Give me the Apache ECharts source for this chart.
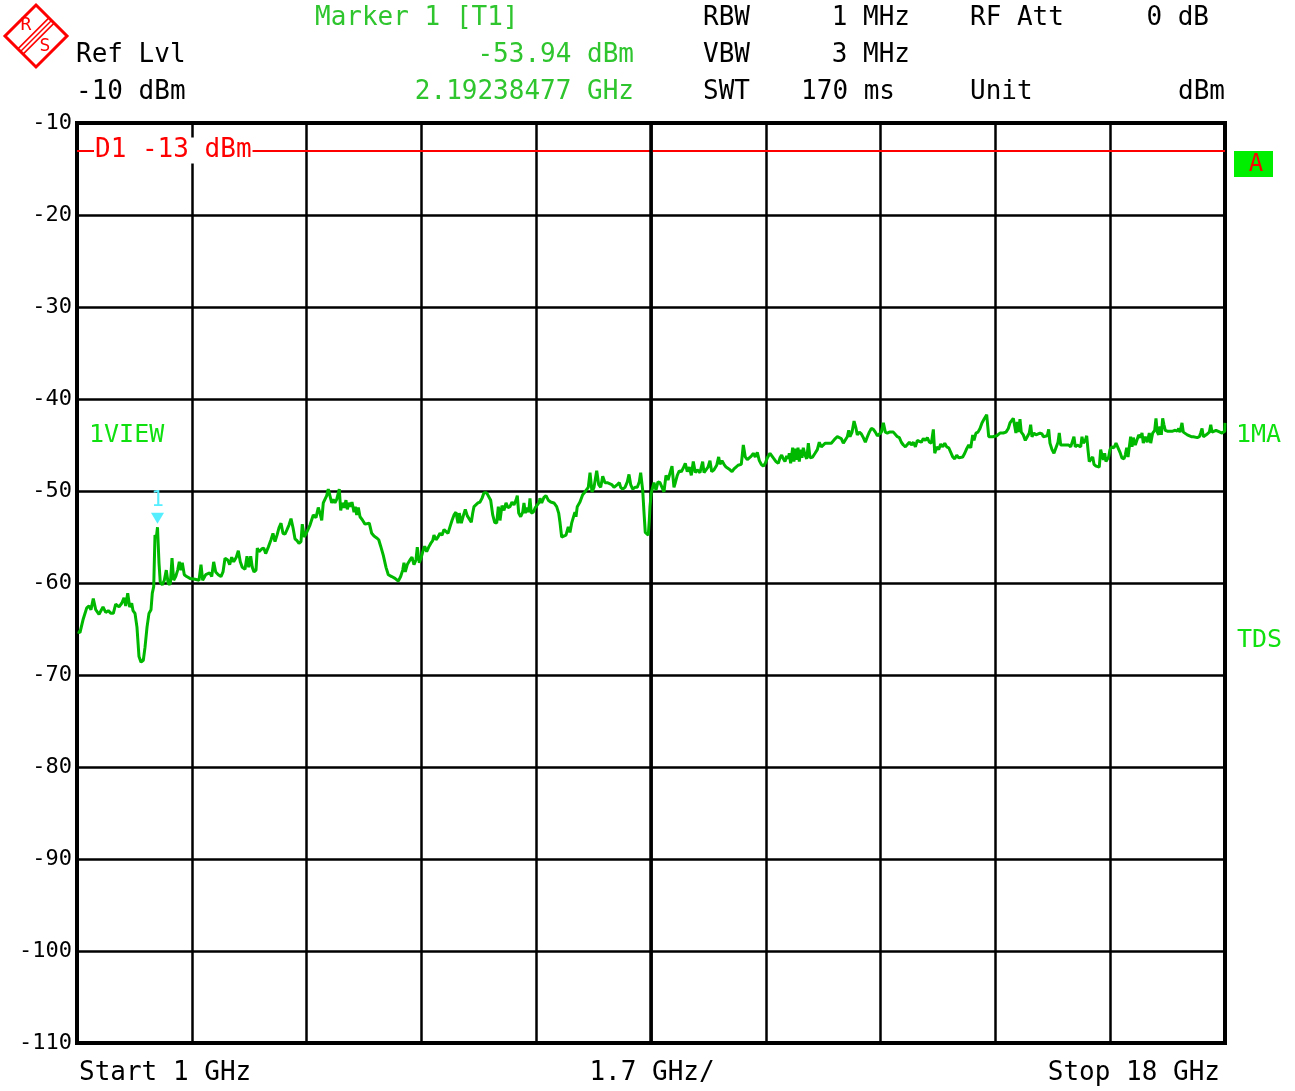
<!DOCTYPE html>
<html>
<head>
<meta charset="utf-8">
<script src="https://cdn.jsdelivr.net/npm/echarts@6/dist/echarts.min.js"></script>
<style>
  html, body { margin: 0; padding: 0; background: #fff; }
  #chart { width: 1295px; height: 1091px; }
</style>
</head>
<body>
<div id="chart"></div>
<script>
// trace 1 (max hold view)
const freqGHz = [
  1.010, 1.044, 1.089, 1.144, 1.178, 1.207, 1.241, 1.277, 1.326, 1.355, 1.385, 1.425, 1.463, 1.503, 1.538,
  1.573, 1.622, 1.662, 1.696, 1.721, 1.751, 1.780, 1.810, 1.829, 1.859, 1.888, 1.918, 1.948, 1.982, 2.007,
  2.037, 2.066, 2.096, 2.115, 2.136, 2.155, 2.174, 2.192, 2.214, 2.233, 2.263, 2.293, 2.322, 2.352, 2.382,
  2.407, 2.432, 2.462, 2.491, 2.515, 2.540, 2.559, 2.589, 2.624, 2.673, 2.747, 2.807, 2.836, 2.861, 2.906,
  2.935, 2.965, 2.995, 3.024, 3.054, 3.092, 3.132, 3.162, 3.192, 3.232, 3.261, 3.291, 3.320, 3.359, 3.389,
  3.418, 3.448, 3.488, 3.517, 3.543, 3.572, 3.596, 3.621, 3.651, 3.670, 3.695, 3.735, 3.765, 3.794, 3.833,
  3.873, 3.902, 3.932, 3.962, 3.991, 4.021, 4.050, 4.080, 4.110, 4.139, 4.169, 4.199, 4.228, 4.258, 4.287,
  4.317, 4.336, 4.366, 4.395, 4.410, 4.450, 4.499, 4.539, 4.573, 4.598, 4.624, 4.647, 4.672, 4.698, 4.721,
  4.746, 4.772, 4.795, 4.820, 4.846, 4.884, 4.905, 4.929, 4.958, 4.983, 5.003, 5.028, 5.053, 5.072, 5.102,
  5.121, 5.142, 5.166, 5.191, 5.231, 5.265, 5.290, 5.328, 5.364, 5.398, 5.438, 5.468, 5.497, 5.536, 5.576,
  5.610, 5.660, 5.709, 5.758, 5.793, 5.823, 5.842, 5.861, 5.891, 5.931, 5.961, 5.990, 6.020, 6.039, 6.069,
  6.098, 6.128, 6.149, 6.178, 6.208, 6.238, 6.267, 6.286, 6.316, 6.346, 6.375, 6.405, 6.435, 6.464, 6.494,
  6.523, 6.553, 6.583, 6.612, 6.642, 6.661, 6.691, 6.720, 6.750, 6.780, 6.809, 6.839, 6.860, 6.879, 6.908,
  6.938, 6.968, 6.997, 7.027, 7.067, 7.096, 7.126, 7.156, 7.185, 7.215, 7.239, 7.264, 7.293, 7.323, 7.353,
  7.382, 7.412, 7.441, 7.471, 7.501, 7.520, 7.541, 7.570, 7.600, 7.619, 7.639, 7.659, 7.689, 7.708, 7.727,
  7.757, 7.787, 7.816, 7.846, 7.856, 7.881, 7.915, 7.945, 7.979, 8.015, 8.063, 8.103, 8.133, 8.152, 8.177,
  8.201, 8.241, 8.275, 8.300, 8.325, 8.349, 8.374, 8.389, 8.408, 8.448, 8.488, 8.522, 8.547, 8.571, 8.597,
  8.626, 8.656, 8.696, 8.725, 8.755, 8.785, 8.819, 8.853, 8.882, 8.918, 8.952, 8.981, 9.001, 9.031, 9.051,
  9.081, 9.115, 9.149, 9.174, 9.199, 9.229, 9.263, 9.297, 9.327, 9.347, 9.377, 9.396, 9.415, 9.436, 9.460,
  9.475, 9.485, 9.504, 9.525, 9.544, 9.574, 9.603, 9.633, 9.663, 9.692, 9.722, 9.752, 9.781, 9.811, 9.840,
  9.860, 9.889, 9.919, 9.949, 9.978, 10.008, 10.037, 10.067, 10.097, 10.126, 10.156, 10.185, 10.225, 10.265, 10.285,
  10.314, 10.344, 10.373, 10.399, 10.433, 10.473, 10.502, 10.522, 10.551, 10.581, 10.611, 10.640, 10.670, 10.700, 10.729,
  10.759, 10.789, 10.818, 10.837, 10.867, 10.896, 10.926, 10.955, 10.985, 11.015, 11.044, 11.074, 11.104, 11.133, 11.163,
  11.192, 11.222, 11.262, 11.281, 11.311, 11.351, 11.385, 11.410, 11.435, 11.459, 11.484, 11.509, 11.533, 11.548, 11.568,
  11.598, 11.617, 11.637, 11.657, 11.677, 11.696, 11.717, 11.736, 11.755, 11.781, 11.806, 11.830, 11.855, 11.894, 11.929,
  11.963, 11.992, 12.022, 12.051, 12.081, 12.111, 12.140, 12.170, 12.199, 12.229, 12.259, 12.288, 12.318, 12.348, 12.377,
  12.407, 12.428, 12.447, 12.477, 12.507, 12.536, 12.555, 12.585, 12.615, 12.644, 12.674, 12.704, 12.733, 12.763, 12.793,
  12.822, 12.852, 12.881, 12.911, 12.941, 12.970, 13.000, 13.030, 13.059, 13.089, 13.118, 13.148, 13.178, 13.207, 13.237,
  13.267, 13.296, 13.326, 13.355, 13.385, 13.415, 13.444, 13.474, 13.504, 13.533, 13.563, 13.592, 13.622, 13.652, 13.681,
  13.702, 13.731, 13.761, 13.790, 13.820, 13.850, 13.879, 13.909, 13.938, 13.968, 13.998, 14.027, 14.057, 14.086, 14.116,
  14.146, 14.175, 14.205, 14.235, 14.264, 14.283, 14.312, 14.342, 14.372, 14.401, 14.431, 14.450, 14.471, 14.501, 14.530,
  14.560, 14.589, 14.619, 14.668, 14.717, 14.757, 14.791, 14.816, 14.841, 14.865, 14.890, 14.904, 14.924, 14.945, 14.964,
  14.983, 15.013, 15.043, 15.072, 15.102, 15.122, 15.142, 15.171, 15.201, 15.230, 15.260, 15.290, 15.309, 15.338, 15.368,
  15.389, 15.408, 15.438, 15.467, 15.497, 15.527, 15.546, 15.567, 15.596, 15.626, 15.655, 15.685, 15.715, 15.744, 15.763,
  15.783, 15.813, 15.842, 15.863, 15.882, 15.902, 15.931, 15.952, 15.971, 15.990, 16.011, 16.041, 16.060, 16.090, 16.109,
  16.138, 16.159, 16.178, 16.198, 16.218, 16.237, 16.257, 16.277, 16.297, 16.326, 16.356, 16.386, 16.415, 16.445, 16.474,
  16.504, 16.523, 16.544, 16.564, 16.583, 16.603, 16.623, 16.642, 16.672, 16.692, 16.722, 16.751, 16.771, 16.790, 16.820,
  16.849, 16.879, 16.900, 16.929, 16.959, 16.978, 16.997, 17.018, 17.037, 17.057, 17.077, 17.096, 17.116, 17.146, 17.185,
  17.225, 17.264, 17.294, 17.314, 17.334, 17.363, 17.383, 17.412, 17.442, 17.471, 17.501, 17.531, 17.560, 17.590, 17.620,
  17.640, 17.660, 17.679, 17.708, 17.738, 17.768, 17.789, 17.808, 17.837, 17.867, 17.896, 17.926, 17.956, 17.975, 17.996,
  18.000
]

const levelDbm = [
  -65.3, -65.4, -64.0, -62.7, -62.5, -62.9, -61.7, -62.9, -63.4, -63.6, -62.6, -63.2, -63.0, -63.3, -63.3,
  -62.3, -62.6, -62.2, -61.6, -62.5, -61.1, -62.6, -62.2, -63.0, -63.3, -64.8, -68.0, -68.6, -68.4, -67.0,
  -64.8, -63.3, -62.9, -61.1, -60.4, -54.8, -55.1, -53.94, -57.8, -59.9, -60.2, -59.7, -58.6, -60.1, -60.1,
  -57.3, -59.7, -59.3, -58.6, -57.7, -58.6, -57.8, -59.1, -59.3, -59.5, -59.6, -59.7, -58.0, -59.7, -59.1,
  -59.3, -58.9, -59.3, -57.7, -58.8, -59.1, -59.3, -58.8, -57.3, -57.5, -58.0, -57.2, -57.7, -57.2, -56.5,
  -57.7, -58.3, -58.5, -57.1, -58.3, -57.1, -58.3, -58.8, -58.6, -56.2, -56.6, -56.3, -56.2, -56.8, -56.1,
  -55.3, -54.6, -55.5, -54.8, -54.0, -53.5, -54.6, -54.7, -54.2, -53.7, -53.0, -54.0, -55.2, -55.4, -55.7,
  -55.5, -53.6, -55.0, -54.6, -54.8, -53.7, -52.6, -52.9, -51.8, -52.4, -53.2, -51.3, -51.2, -50.5, -49.8,
  -49.7, -51.3, -50.9, -51.3, -50.9, -49.8, -52.1, -51.3, -51.8, -51.0, -52.0, -51.3, -51.7, -51.2, -52.3,
  -51.7, -52.6, -51.8, -52.8, -53.2, -53.6, -53.5, -53.5, -54.6, -54.9, -55.1, -55.3, -56.0, -57.0, -58.3,
  -59.1, -59.3, -59.5, -59.8, -59.3, -58.6, -57.8, -58.8, -58.0, -57.5, -57.2, -58.0, -57.5, -56.1, -57.8,
  -57.2, -56.4, -56.0, -56.6, -56.1, -55.7, -55.4, -54.8, -55.3, -55.0, -54.6, -54.8, -54.2, -54.0, -54.6,
  -53.9, -53.2, -52.6, -52.3, -53.5, -52.4, -53.5, -52.7, -52.0, -52.7, -52.8, -53.4, -52.4, -51.7, -51.5,
  -51.3, -51.2, -50.8, -50.2, -50.2, -50.2, -51.0, -52.6, -53.4, -53.5, -51.7, -53.2, -51.6, -52.1, -51.3,
  -51.8, -51.7, -51.2, -51.5, -51.0, -50.5, -52.4, -52.8, -52.3, -51.3, -52.4, -51.8, -52.3, -50.8, -52.4,
  -52.3, -51.8, -51.7, -51.2, -50.8, -51.3, -50.7, -50.5, -51.0, -51.2, -51.3, -51.7, -52.4, -53.4, -55.0,
  -55.2, -54.8, -53.9, -54.5, -53.5, -52.9, -52.3, -52.8, -51.7, -51.2, -50.4, -50.1, -50.2, -49.6, -48.0,
  -50.1, -49.6, -47.8, -49.3, -49.6, -48.4, -49.1, -49.1, -49.3, -49.3, -49.6, -49.7, -49.3, -49.1, -49.6,
  -49.8, -49.6, -49.0, -48.2, -49.3, -49.8, -49.6, -49.6, -49.0, -48.0, -49.9, -52.3, -54.5, -54.7, -54.8,
  -53.2, -51.7, -50.2, -49.6, -49.1, -49.9, -49.0, -49.1, -49.6, -50.1, -48.3, -48.8, -48.6, -47.3, -49.6,
  -49.1, -48.3, -47.8, -47.9, -47.5, -47.0, -47.9, -47.4, -48.3, -46.8, -48.0, -47.7, -48.0, -46.8, -48.0,
  -47.9, -47.4, -46.7, -47.9, -47.7, -47.2, -46.3, -47.1, -46.7, -47.1, -47.4, -47.5, -47.7, -47.9, -47.6,
  -47.4, -47.2, -47.0, -47.1, -45.0, -46.3, -46.6, -46.4, -46.2, -45.9, -46.3, -45.8, -46.7, -47.1, -47.3,
  -47.0, -46.4, -45.9, -45.8, -46.4, -46.8, -47.0, -46.4, -46.1, -46.5, -46.8, -46.2, -46.5, -45.9, -47.0,
  -45.3, -46.8, -45.4, -46.6, -45.3, -46.8, -45.5, -46.4, -45.3, -46.1, -46.5, -44.8, -46.4, -46.3, -45.9,
  -45.5, -44.7, -45.2, -45.3, -44.8, -44.8, -44.7, -44.8, -44.6, -44.3, -44.1, -44.0, -44.3, -44.8, -45.0,
  -44.1, -43.4, -44.1, -43.6, -42.4, -43.2, -43.9, -43.6, -43.8, -44.2, -44.7, -44.1, -43.6, -43.2, -43.3,
  -43.6, -44.0, -43.9, -43.6, -42.6, -43.6, -43.7, -43.6, -43.8, -43.6, -43.8, -44.1, -44.2, -44.7, -45.0,
  -45.2, -45.3, -44.7, -45.0, -44.7, -45.2, -44.5, -44.6, -44.7, -44.3, -44.5, -44.2, -44.7, -44.8, -43.3,
  -45.9, -45.2, -45.5, -44.9, -45.2, -44.8, -45.2, -45.3, -45.5, -46.3, -46.5, -46.1, -46.4, -46.3, -46.3,
  -45.9, -45.4, -45.0, -45.3, -43.9, -44.5, -43.7, -43.6, -43.2, -42.6, -42.2, -42.0, -41.7, -44.1, -44.2,
  -44.1, -44.1, -44.0, -43.7, -43.7, -43.6, -43.2, -42.6, -42.5, -42.1, -42.2, -43.7, -42.5, -43.6, -42.2,
  -43.6, -43.9, -44.5, -44.1, -43.7, -42.8, -44.1, -43.7, -43.9, -43.7, -43.7, -43.8, -44.1, -44.2, -44.0,
  -43.3, -44.8, -45.5, -45.9, -45.3, -44.7, -43.7, -45.0, -44.8, -45.0, -44.8, -45.0, -45.2, -45.1, -44.1,
  -45.2, -45.0, -44.8, -45.2, -44.1, -44.8, -44.5, -44.0, -45.5, -46.8, -47.0, -46.3, -47.1, -47.3, -47.5,
  -47.4, -45.5, -46.1, -46.6, -45.9, -46.8, -46.7, -46.3, -45.5, -45.2, -45.3, -44.8, -45.0, -45.8, -46.4,
  -46.5, -46.1, -45.3, -46.3, -45.2, -44.1, -45.2, -44.2, -45.0, -44.8, -43.9, -44.2, -43.7, -44.8, -44.1,
  -44.7, -43.7, -44.8, -43.7, -43.4, -42.1, -43.6, -43.9, -43.0, -43.9, -42.1, -42.8, -43.4, -43.5, -43.5,
  -43.5, -43.4, -43.5, -43.2, -43.6, -42.6, -43.6, -43.7, -43.9, -44.1, -44.1, -44.1, -44.2, -44.2, -44.1,
  -43.7, -43.2, -44.1, -44.1, -43.8, -43.6, -42.8, -43.6, -43.7, -43.4, -43.3, -43.6, -43.7, -43.8, -43.5,
  -42.6
]

// display line D1 and marker 1
const displayLine = -13
const marker1 = [2.192, -53.94]
const startGHz = 1
const stopGHz = 18
const centerGHz = 9.5

const trace = freqGHz.map((f, i) => [f, levelDbm[i]])

const chart = echarts.init(document.getElementById("chart"))
const mono = "DejaVu Sans Mono"
const green = "#2ec52e"
const bright = "#10e010"

const txt = (text, x, y, color, align, size) => ({
  type: "text",
  x: x,
  y: y,
  silent: true,
  style: {
    text: text,
    fill: color || "#000",
    font: (size || 26) + "px " + mono,
    textAlign: align || "left",
    textVerticalAlign: "middle",
  },
})

const option = {
  backgroundColor: "#fff",
  animation: false,
  grid: {
    left: 77,
    right: 70,
    top: 123,
    bottom: 48,
    show: true,
    borderColor: "#000",
    borderWidth: 4,
  },
  xAxis: [
    {
      // data axis
      type: "value",
      min: startGHz,
      max: stopGHz,
      axisLine: { show: false },
      axisTick: { show: false },
      axisLabel: { show: false },
      splitLine: { show: false },
    },
    {
      // 10 divisions of 1.7 GHz
      type: "value",
      min: 0,
      max: 10,
      interval: 1,
      position: "bottom",
      axisLine: { show: false },
      axisTick: { show: false },
      axisLabel: { show: false },
      splitLine: { show: true, lineStyle: { color: "#000", width: 2.5 } },
    },
  ],
  yAxis: {
    type: "value",
    min: -110,
    max: -10,
    interval: 10,
    axisLine: { show: false },
    axisTick: { show: false },
    axisLabel: {
      color: "#000",
      fontFamily: mono,
      fontSize: 22,
      margin: 5,
    },
    splitLine: { show: true, lineStyle: { color: "#000", width: 2.5 } },
  },
  series: [
    {
      type: "line",
      xAxisIndex: 0,
      data: trace,
      showSymbol: false,
      lineStyle: { color: "#00b800", width: 3 },
      z: 5,
      markLine: {
        silent: true,
        symbol: "none",
        animation: false,
        data: [
          {
            yAxis: displayLine,
            lineStyle: { color: "#ff0000", width: 2, type: "solid" },
            label: {
              show: true,
              position: "insideStart",
              distance: 17,
              formatter: "D1 -13 dBm",
              color: "#ff0000",
              fontFamily: mono,
              fontSize: 26,
              backgroundColor: "#fff",
              padding: [0, 1],
            },
          },
          {
            xAxis: centerGHz,
            lineStyle: { color: "#000", width: 3.5, type: "solid" },
            label: { show: false },
          },
        ],
      },
      markPoint: {
        silent: true,
        animation: false,
        data: [
          {
            coord: marker1,
            symbol: "triangle",
            symbolRotate: 180,
            symbolSize: [13, 11],
            symbolOffset: [0, -9],
            itemStyle: { color: "#55eeff" },
            label: {
              show: true,
              position: "top",
              distance: 2,
              formatter: "1",
              color: "#55eeff",
              fontFamily: mono,
              fontSize: 21,
            },
          },
        ],
      },
    },
  ],
  graphic: [
    // R&S logo
    {
      type: "polygon",
      silent: true,
      shape: { points: [[36, 5], [67, 36], [36, 67], [5, 36]] },
      style: { fill: "none", stroke: "#ff0000", lineWidth: 3 },
    },
    { type: "line", silent: true, shape: { x1: 48.9, y1: 17.9, x2: 17.9, y2: 48.9 }, style: { stroke: "#ff0000", lineWidth: 1.5 } },
    { type: "line", silent: true, shape: { x1: 51.5, y1: 20.5, x2: 20.5, y2: 51.5 }, style: { stroke: "#ff0000", lineWidth: 1.5 } },
    { type: "line", silent: true, shape: { x1: 54.1, y1: 23.1, x2: 23.1, y2: 54.1 }, style: { stroke: "#ff0000", lineWidth: 1.5 } },
    txt("R", 26, 25, "#ff0000", "center", 18),
    txt("S", 45, 46, "#ff0000", "center", 18),

    // header
    txt("Marker 1 [T1]", 315, 18, green),
    txt("Ref Lvl", 76, 55),
    txt("-53.94 dBm", 634, 55, green, "right"),
    txt("-10 dBm", 76, 92),
    txt("2.19238477 GHz", 634, 92, green, "right"),
    txt("RBW", 703, 18),
    txt("1 MHz", 910, 18, "#000", "right"),
    txt("RF Att", 970, 18),
    txt("0 dB", 1209, 18, "#000", "right"),
    txt("VBW", 703, 55),
    txt("3 MHz", 910, 55, "#000", "right"),
    txt("SWT", 703, 92),
    txt("170 ms", 895, 92, "#000", "right"),
    txt("Unit", 970, 92),
    txt("dBm", 1225, 92, "#000", "right"),

    // side annotations
    txt("1VIEW", 89, 435, bright, "left", 25),
    txt("1MA", 1236, 435, bright, "left", 25),
    txt("TDS", 1237, 640, bright, "left", 25),
    {
      type: "rect",
      silent: true,
      shape: { x: 1234, y: 151, width: 39, height: 26 },
      style: { fill: "#00ee00" },
    },
    txt("A", 1256, 165, "#ff0000", "center", 24),

    // footer
    txt("Start 1 GHz", 79, 1073),
    txt("1.7 GHz/", 652, 1073, "#000", "center"),
    txt("Stop 18 GHz", 1220, 1073, "#000", "right"),
  ],
}

chart.setOption(option)
</script>
</body>
</html>
